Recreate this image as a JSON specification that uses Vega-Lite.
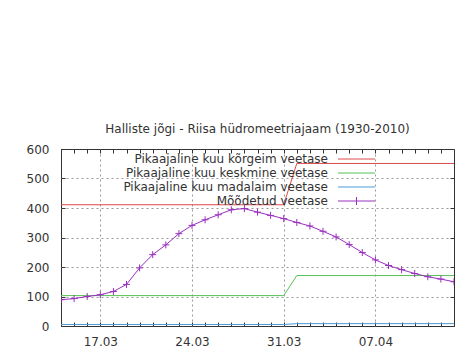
{
  "$schema": "https://vega.github.io/schema/vega-lite/v6.json",
  "autosize": {"type": "none"},
  "padding": {"left": 61, "top": 149, "right": 21, "bottom": 30},
  "width": 393,
  "height": 177,
  "background": "white",
  "title": {
    "text": "Halliste jõgi - Riisa hüdromeetriajaam (1930-2010)",
    "fontSize": 12,
    "fontWeight": "normal",
    "font": "DejaVu Sans",
    "color": "#333333",
    "anchor": "middle",
    "frame": "group",
    "baseline": "bottom",
    "offset": -5
  },
  "data": {
    "values": [
      {"date": "2011-03-14T00:00:00", "series": "Pikaajaline kuu kõrgeim veetase", "value": 411},
      {"date": "2011-03-31T00:00:00", "series": "Pikaajaline kuu kõrgeim veetase", "value": 411},
      {"date": "2011-04-01T00:00:00", "series": "Pikaajaline kuu kõrgeim veetase", "value": 551},
      {"date": "2011-04-13T00:00:00", "series": "Pikaajaline kuu kõrgeim veetase", "value": 551},
      {"date": "2011-03-14T00:00:00", "series": "Pikaajaline kuu keskmine veetase", "value": 103},
      {"date": "2011-03-31T00:00:00", "series": "Pikaajaline kuu keskmine veetase", "value": 103},
      {"date": "2011-04-01T00:00:00", "series": "Pikaajaline kuu keskmine veetase", "value": 171},
      {"date": "2011-04-13T00:00:00", "series": "Pikaajaline kuu keskmine veetase", "value": 171},
      {"date": "2011-03-14T00:00:00", "series": "Pikaajaline kuu madalaim veetase", "value": 5},
      {"date": "2011-03-31T00:00:00", "series": "Pikaajaline kuu madalaim veetase", "value": 5},
      {"date": "2011-04-01T00:00:00", "series": "Pikaajaline kuu madalaim veetase", "value": 8},
      {"date": "2011-04-13T00:00:00", "series": "Pikaajaline kuu madalaim veetase", "value": 8},
      {"date": "2011-03-14T00:00:00", "series": "Mõõdetud veetase", "value": 89},
      {"date": "2011-03-15T00:00:00", "series": "Mõõdetud veetase", "value": 93},
      {"date": "2011-03-16T00:00:00", "series": "Mõõdetud veetase", "value": 100},
      {"date": "2011-03-17T00:00:00", "series": "Mõõdetud veetase", "value": 106},
      {"date": "2011-03-18T00:00:00", "series": "Mõõdetud veetase", "value": 117},
      {"date": "2011-03-19T00:00:00", "series": "Mõõdetud veetase", "value": 141},
      {"date": "2011-03-20T00:00:00", "series": "Mõõdetud veetase", "value": 197},
      {"date": "2011-03-21T00:00:00", "series": "Mõõdetud veetase", "value": 242},
      {"date": "2011-03-22T00:00:00", "series": "Mõõdetud veetase", "value": 275},
      {"date": "2011-03-23T00:00:00", "series": "Mõõdetud veetase", "value": 313},
      {"date": "2011-03-24T00:00:00", "series": "Mõõdetud veetase", "value": 341},
      {"date": "2011-03-25T00:00:00", "series": "Mõõdetud veetase", "value": 360},
      {"date": "2011-03-26T00:00:00", "series": "Mõõdetud veetase", "value": 377},
      {"date": "2011-03-27T00:00:00", "series": "Mõõdetud veetase", "value": 394},
      {"date": "2011-03-28T00:00:00", "series": "Mõõdetud veetase", "value": 398},
      {"date": "2011-03-29T00:00:00", "series": "Mõõdetud veetase", "value": 386},
      {"date": "2011-03-30T00:00:00", "series": "Mõõdetud veetase", "value": 375},
      {"date": "2011-03-31T00:00:00", "series": "Mõõdetud veetase", "value": 364},
      {"date": "2011-04-01T00:00:00", "series": "Mõõdetud veetase", "value": 351},
      {"date": "2011-04-02T00:00:00", "series": "Mõõdetud veetase", "value": 339},
      {"date": "2011-04-03T00:00:00", "series": "Mõõdetud veetase", "value": 321},
      {"date": "2011-04-04T00:00:00", "series": "Mõõdetud veetase", "value": 302},
      {"date": "2011-04-05T00:00:00", "series": "Mõõdetud veetase", "value": 276},
      {"date": "2011-04-06T00:00:00", "series": "Mõõdetud veetase", "value": 249},
      {"date": "2011-04-07T00:00:00", "series": "Mõõdetud veetase", "value": 224},
      {"date": "2011-04-08T00:00:00", "series": "Mõõdetud veetase", "value": 205},
      {"date": "2011-04-09T00:00:00", "series": "Mõõdetud veetase", "value": 191},
      {"date": "2011-04-10T00:00:00", "series": "Mõõdetud veetase", "value": 178},
      {"date": "2011-04-11T00:00:00", "series": "Mõõdetud veetase", "value": 167},
      {"date": "2011-04-12T00:00:00", "series": "Mõõdetud veetase", "value": 159},
      {"date": "2011-04-13T00:00:00", "series": "Mõõdetud veetase", "value": 150}
    ]
  },
  "layer": [
    {
      "mark": {"type": "line", "strokeWidth": 1, "clip": true, "interpolate": "linear"},
      "encoding": {
        "x": {
          "field": "date", "type": "temporal",
          "scale": {"domain": [{"year": 2011, "month": 3, "date": 14}, {"year": 2011, "month": 4, "date": 13}]},
          "axis": {
            "orient": "bottom", "title": null, "domain": false,
            "tickCount": {"interval": "day", "step": 1},
            "tickSize": -4, "tickColor": "#333333",
            "labelPadding": 14, "labelFontSize": 12, "labelColor": "#333333", "labelFont": "DejaVu Sans",
            "labelOverlap": false, "labelFlush": false,
            "labelExpr": "indexof(['17.03','24.03','31.03','07.04'], timeFormat(datum.value, '%d.%m')) >= 0 ? timeFormat(datum.value, '%d.%m') : ''",
            "grid": true, "gridColor": "#999999", "gridDash": [2, 3], "gridWidth": 1,
            "gridOpacity": {"condition": {"test": "indexof(['17.03','24.03','31.03','07.04'], timeFormat(datum.value, '%d.%m')) >= 0", "value": 1}, "value": 0}
          }
        },
        "y": {
          "field": "value", "type": "quantitative",
          "scale": {"domain": [0, 600], "nice": false},
          "axis": {
            "orient": "left", "title": null, "domain": false,
            "values": [0, 100, 200, 300, 400, 500, 600],
            "tickSize": -4, "tickColor": "#333333",
            "labelPadding": 16, "labelFontSize": 12, "labelColor": "#333333", "labelFont": "DejaVu Sans",
            "labelOverlap": false, "labelFlush": false,
            "grid": true, "gridColor": "#999999", "gridDash": [2, 3], "gridWidth": 1,
            "gridOpacity": {"condition": {"test": "datum.value > 0 && datum.value < 600", "value": 1}, "value": 0}
          }
        },
        "color": {
          "field": "series", "type": "nominal",
          "scale": {
            "domain": ["Pikaajaline kuu kõrgeim veetase", "Pikaajaline kuu keskmine veetase", "Pikaajaline kuu madalaim veetase", "Mõõdetud veetase"],
            "range": ["#dd4a4a", "#55c055", "#4a9ad8", "#9b30c0"]
          },
          "legend": {
            "title": null,
            "orient": "none",
            "legendX": 55,
            "legendY": 4,
            "padding": 0,
            "direction": "vertical",
            "columns": 1,
            "symbolType": "M108,0H126.5",
            "symbolSize": 16,
            "symbolStrokeWidth": 1,
            "symbolOffset": 0,
            "labelOffset": 200,
            "labelAlign": "right",
            "labelLimit": 400,
            "labelFontSize": 12,
            "labelFont": "DejaVu Sans",
            "labelColor": "#333333",
            "rowPadding": 2,
            "encode": {
              "symbols": {
                "update": {
                  "shape": [{"test": "datum.value === 'Mõõdetud veetase'", "value": "M108,0H126.5M117.25,-2V2"}, {"value": "M108,0H126.5"}],
                  "fill": {"value": "transparent"}
                }
              }
            }
          }
        }
      }
    },
    {
      "transform": [{"filter": "datum.series === 'Mõõdetud veetase'"}],
      "mark": {"type": "point", "shape": "M-1,0H1M0,-1V1", "size": 49, "filled": false, "strokeWidth": 1, "opacity": 1, "color": "#9b30c0", "clip": true},
      "encoding": {
        "x": {
          "field": "date", "type": "temporal",
          "scale": {"domain": [{"year": 2011, "month": 3, "date": 14}, {"year": 2011, "month": 4, "date": 13}]},
          "axis": {
            "orient": "top", "title": null, "domain": false, "labels": false, "grid": false,
            "tickCount": {"interval": "day", "step": 1},
            "tickSize": -4, "tickColor": "#333333"
          }
        },
        "y": {
          "field": "value", "type": "quantitative",
          "scale": {"domain": [0, 600], "nice": false},
          "axis": {
            "orient": "right", "title": null, "domain": false, "labels": false, "grid": false,
            "values": [100, 200, 300, 400, 500],
            "tickSize": -4, "tickColor": "#333333"
          }
        }
      }
    }
  ],
  "resolve": {"axis": {"x": "independent", "y": "independent"}},
  "config": {
    "font": "DejaVu Sans",
    "view": {"stroke": "#333333", "strokeWidth": 1, "fill": "white"}
  }
}
